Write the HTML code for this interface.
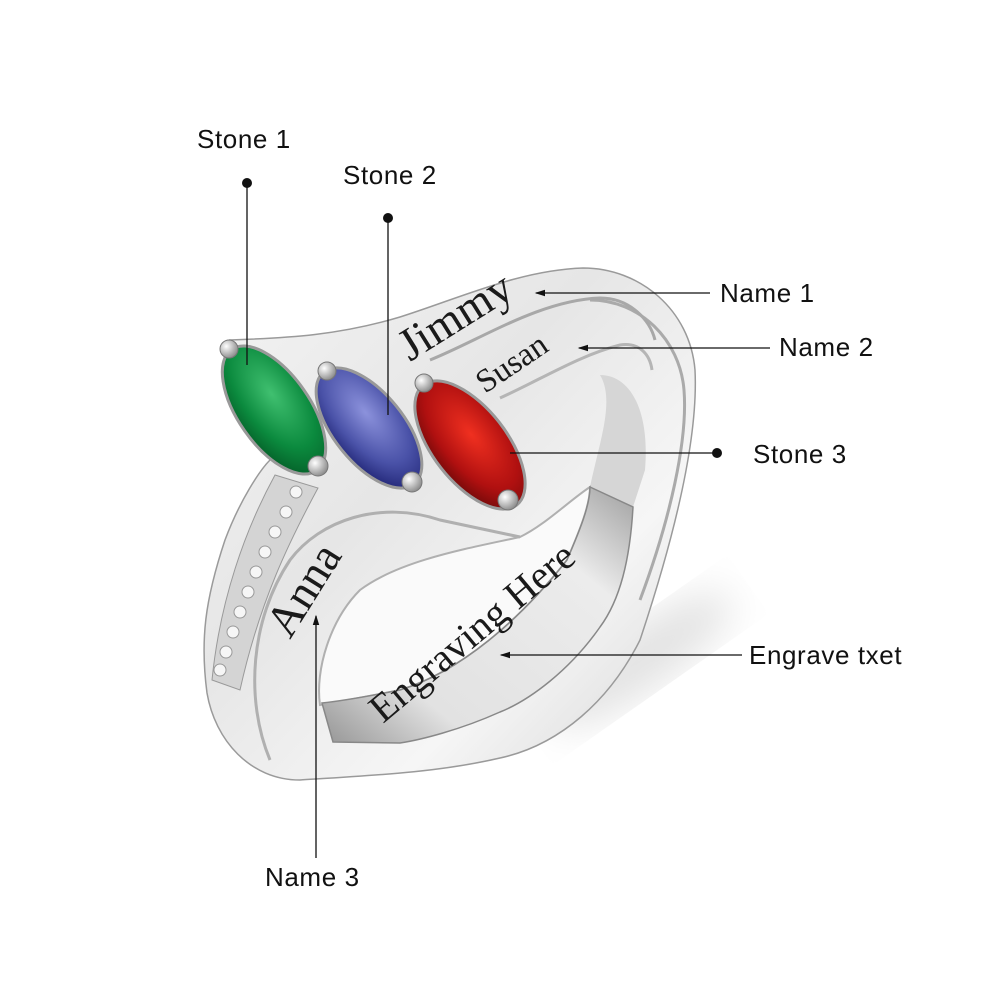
<!DOCTYPE html>
<html><head><meta charset="utf-8"><style>
html,body{margin:0;padding:0;background:#fff;}
svg{display:block;}
.lb{font-family:"Liberation Sans",sans-serif;font-size:26px;fill:#111;letter-spacing:0.6px;}
.en{font-family:"Liberation Serif",serif;fill:#1a1a1a;}
</style></head><body>
<svg width="1000" height="1000" viewBox="0 0 1000 1000" xmlns="http://www.w3.org/2000/svg">
<defs>
<linearGradient id="metal" x1="0" y1="0" x2="1" y2="1">
<stop offset="0" stop-color="#f4f4f4"/><stop offset="0.4" stop-color="#e6e6e6"/><stop offset="0.7" stop-color="#f6f6f6"/><stop offset="1" stop-color="#d4d4d4"/>
</linearGradient>
<linearGradient id="inner" x1="1" y1="0" x2="0" y2="1">
<stop offset="0" stop-color="#a0a0a0"/><stop offset="0.25" stop-color="#ececec"/><stop offset="0.75" stop-color="#e2e2e2"/><stop offset="1" stop-color="#959595"/>
</linearGradient>
<radialGradient id="g1" cx="0.4" cy="0.4" r="0.7"><stop offset="0" stop-color="#40c070"/><stop offset="0.6" stop-color="#0b8a3e"/><stop offset="1" stop-color="#045a26"/></radialGradient>
<radialGradient id="g2" cx="0.4" cy="0.4" r="0.7"><stop offset="0" stop-color="#8c92dc"/><stop offset="0.6" stop-color="#4a52a8"/><stop offset="1" stop-color="#1c2070"/></radialGradient>
<radialGradient id="g3" cx="0.45" cy="0.4" r="0.7"><stop offset="0" stop-color="#f03020"/><stop offset="0.6" stop-color="#b01010"/><stop offset="1" stop-color="#600808"/></radialGradient>
<radialGradient id="pr" cx="0.35" cy="0.35" r="0.7"><stop offset="0" stop-color="#fff"/><stop offset="1" stop-color="#8a8a8a"/></radialGradient>
<filter id="blur"><feGaussianBlur stdDeviation="20"/></filter>
<marker id="ah" markerWidth="8" markerHeight="8" refX="7" refY="4" orient="auto"><path d="M0,1.5 L8,4 L0,6.5 Z" fill="#111"/></marker>
</defs>

<!-- shadow -->
<ellipse cx="640" cy="660" rx="110" ry="30" fill="#e2e2e2" filter="url(#blur)" transform="rotate(-35 640 660)"/>

<!-- outer metal -->
<path d="M230,340 C290,338 340,335 400,317 C460,298 520,270 583,268 C640,268 690,310 695,370 C698,430 680,520 640,640 C610,700 560,745 500,758 C440,772 380,775 300,780 C250,780 215,740 207,693 C200,640 205,600 225,540 C240,500 260,470 270,460 Z" fill="url(#metal)" stroke="#9a9a9a" stroke-width="1.5"/>

<path d="M590,300 C640,300 680,340 684,390 C688,440 670,520 640,600" fill="none" stroke="#aaa" stroke-width="3"/>
<path d="M600,375 C630,375 650,410 645,470 L633,507 L590,487 C600,440 615,400 600,375 Z" fill="#d6d6d6"/>

<!-- hole -->
<path d="M520,537 C470,548 400,560 360,590 C330,620 315,670 320,705 C350,700 380,694 400,690 C460,672 520,620 567,560 C580,530 590,505 590,487 C570,500 545,525 520,537 Z" fill="#fafafa" stroke="#b0b0b0" stroke-width="2"/>

<!-- inner band -->
<path d="M590,487 L633,507 C630,560 620,600 600,627 C570,670 530,700 500,712 C460,730 420,740 400,743 L333,742 L322,703 C350,700 380,694 400,690 C460,672 520,620 567,560 C580,530 590,505 590,487 Z" fill="url(#inner)" stroke="#888" stroke-width="1.5"/>

<!-- grooves -->
<path d="M430,360 C480,340 540,300 600,298 C630,298 650,320 655,340" fill="none" stroke="#a8a8a8" stroke-width="3"/>
<path d="M500,398 C540,380 580,355 620,345 C640,342 650,355 652,370" fill="none" stroke="#b5b5b5" stroke-width="3"/>
<path d="M270,760 C245,700 250,620 290,560 C320,520 380,500 440,520 L520,537" fill="none" stroke="#b0b0b0" stroke-width="3"/>

<!-- pave strip -->
<path d="M275,475 L318,488 C290,540 260,600 240,690 L212,680 C220,600 245,530 275,475 Z" fill="#d4d4d4" stroke="#999" stroke-width="1"/>
<g fill="#f6f6f6" stroke="#999" stroke-width="1">
<circle cx="296" cy="492" r="6"/><circle cx="286" cy="512" r="6"/><circle cx="275" cy="532" r="6"/><circle cx="265" cy="552" r="6"/><circle cx="256" cy="572" r="6"/><circle cx="248" cy="592" r="6"/><circle cx="240" cy="612" r="6"/><circle cx="233" cy="632" r="6"/><circle cx="226" cy="652" r="6"/><circle cx="220" cy="670" r="6"/>
</g>

<!-- stones -->
<g transform="rotate(55 274 410)"><ellipse cx="274" cy="410" rx="74" ry="36" fill="url(#g1)" stroke="#999" stroke-width="3"/></g>
<g transform="rotate(51 369 428)"><ellipse cx="369" cy="428" rx="72" ry="35" fill="url(#g2)" stroke="#999" stroke-width="3"/></g>
<g transform="rotate(52 470 445)"><ellipse cx="470" cy="445" rx="76" ry="37" fill="url(#g3)" stroke="#999" stroke-width="3"/></g>

<!-- prongs -->
<g fill="url(#pr)" stroke="#777" stroke-width="1">
<circle cx="229" cy="349" r="9"/><circle cx="318" cy="466" r="10"/>
<circle cx="327" cy="371" r="9"/><circle cx="412" cy="482" r="10"/>
<circle cx="424" cy="383" r="9"/><circle cx="508" cy="500" r="10"/>
</g>

<!-- engravings -->
<text class="en" font-size="46" transform="translate(410,362) rotate(-32)">Jimmy</text>
<text class="en" font-size="33" transform="translate(485,394) rotate(-34)">Susan</text>
<text class="en" font-size="46" transform="translate(290,640) rotate(-58)">Anna</text>
<text class="en" font-size="40" transform="translate(383,724) rotate(-40)">Engraving Here</text>

<!-- callouts -->
<g stroke="#111" stroke-width="1.3" fill="none">
<line x1="247" y1="183" x2="247" y2="365"/>
<line x1="388" y1="218" x2="388" y2="415"/>
<line x1="710" y1="293" x2="536" y2="293" marker-end="url(#ah)"/>
<line x1="770" y1="348" x2="579" y2="348" marker-end="url(#ah)"/>
<line x1="717" y1="453" x2="510" y2="453"/>
<line x1="742" y1="655" x2="501" y2="655" marker-end="url(#ah)"/>
<line x1="316" y1="858" x2="316" y2="616" marker-end="url(#ah)"/>
</g>
<g fill="#111">
<circle cx="247" cy="183" r="5"/><circle cx="388" cy="218" r="5"/><circle cx="717" cy="453" r="5"/>
</g>
<text class="lb" x="197" y="148">Stone 1</text>
<text class="lb" x="343" y="184">Stone 2</text>
<text class="lb" x="720" y="302">Name 1</text>
<text class="lb" x="779" y="356">Name 2</text>
<text class="lb" x="753" y="463">Stone 3</text>
<text class="lb" x="749" y="664">Engrave txet</text>
<text class="lb" x="265" y="886">Name 3</text>
</svg>
</body></html>
